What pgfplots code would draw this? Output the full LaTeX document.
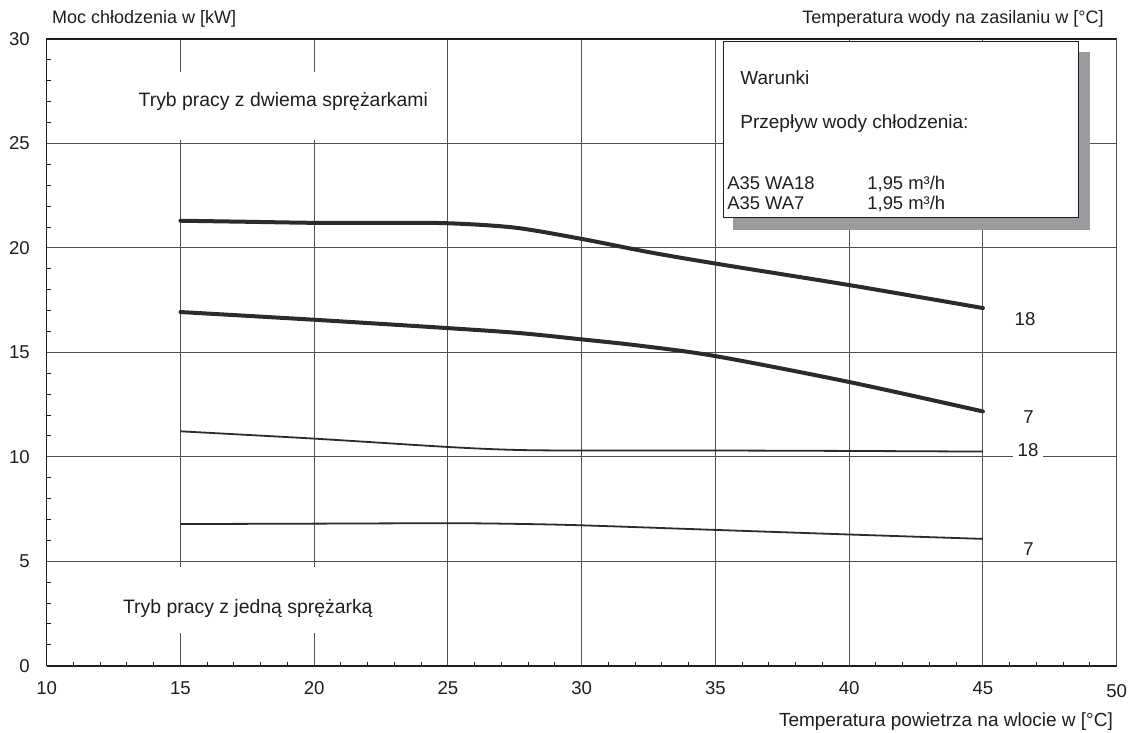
\documentclass[border=0pt]{standalone}
\usepackage{fontspec}
\setmainfont{Liberation Sans}
\usepackage{pgfplots}
\pgfplotsset{compat=1.18}
\definecolor{ink}{HTML}{1E1E1E}
\definecolor{curve}{HTML}{2B2B2B}
\definecolor{gridc}{HTML}{505050}
\definecolor{shadowc}{HTML}{9A9B9F}
\begin{document}
\begin{tikzpicture}
\useasboundingbox (-23.35pt,-33.65pt) rectangle (545.15pt,332.85pt);
\begin{axis}[
  at={(0pt,0pt)}, anchor=south west,
  scale only axis, width=535pt, height=313.35pt,
  xmin=10, xmax=50, ymin=0, ymax=30,
  xtick={10,15,...,45}, ytick={0,5,...,30},
  extra x ticks={50},
  extra x tick style={xticklabel style={yshift=-1.5pt}},
  minor xtick={11,12,13,14,16,17,18,19,21,22,23,24,26,27,28,29,31,32,33,34,36,37,38,39,41,42,43,44,46,47,48,49},
  minor y tick num=4,
  xtick pos=left, ytick pos=left,
  tick align=inside,
  major tick length=0pt, minor tick length=2pt,
  grid=major,
  major grid style={gridc, line width=0.5pt},
  minor grid style={draw=none},
  axis line style={ink, line width=0.6pt},
  minor tick style={ink, line width=0.5pt},
  tick label style={font=\fontsize{9.3pt}{11pt}\selectfont, text=ink},
  /pgf/number format/assume math mode=true,
  xticklabel style={yshift=-4.6pt},
  yticklabel style={xshift=-4.9pt},
  clip=false,
]
% two compressors, supply 18
\addplot[curve, line width=2pt, smooth, tension=0.5, line cap=round] coordinates {
 (15,21.30) (17.5,21.25) (20,21.20) (22.5,21.20) (25,21.18) (27.5,20.97)
 (30,20.43) (32.5,19.80) (35,19.25) (40,18.22) (45,17.12)};
% two compressors, supply 7
\addplot[curve, line width=2pt, smooth, tension=0.5, line cap=round] coordinates {
 (15,16.93) (20,16.56) (25,16.16) (27.7,15.92) (30,15.62) (32.1,15.33)
 (35,14.82) (40,13.58) (45,12.17)};
% one compressor, supply 18
\addplot[curve, line width=0.9pt, smooth, tension=0.5] coordinates {
 (15,11.22) (20,10.87) (25,10.47) (27.5,10.33) (30,10.30) (35,10.30) (40,10.28) (45,10.25)};
% one compressor, supply 7
\addplot[curve, line width=0.9pt, smooth, tension=0.5] coordinates {
 (15,6.78) (20,6.80) (25,6.82) (27.5,6.79) (30,6.72) (35,6.50) (40,6.28) (45,6.07)};
\draw[ink, line width=1pt] (rel axis cs:0,0) -- (rel axis cs:1,0);
\end{axis}
% white backgrounds behind mode labels
\fill[white] (41.65pt,262.85pt) rectangle (196.65pt,297pt);
\fill[white] (34.15pt,16.35pt) rectangle (169.15pt,49.35pt);
\begin{scope}[every node/.style={text=ink, inner sep=0pt}]
\node[anchor=base west, font=\fontsize{9.7pt}{11pt}\selectfont] at (45.8pt,279.5pt) {Tryb pracy z dwiema sprężarkami};
\node[anchor=base west, font=\fontsize{9.7pt}{11pt}\selectfont] at (38pt,26.2pt) {Tryb pracy z jedną sprężarką};
\node[anchor=base west, font=\fontsize{9pt}{11pt}\selectfont] at (2.5pt,321.2pt) {Moc chłodzenia w [kW]};
\node[anchor=base east, font=\fontsize{9pt}{11pt}\selectfont] at (528.65pt,320.85pt) {Temperatura wody na zasilaniu w [°C]};
\node[anchor=base east, font=\fontsize{9.5pt}{11pt}\selectfont] at (533.3pt,-30.5pt) {Temperatura powietrza na wlocie w [°C]};
% curve end labels
\node[font=\fontsize{9.3pt}{11pt}\selectfont] at (489.15pt,173.35pt) {18};
\node[font=\fontsize{9.3pt}{11pt}\selectfont] at (490.9pt,124.2pt) {7};
\node[font=\fontsize{9.3pt}{11pt}\selectfont, fill=white, inner xsep=2.4pt, inner ysep=1pt] at (490.65pt,107.85pt) {18};
\node[font=\fontsize{9.3pt}{11pt}\selectfont] at (490.9pt,58.2pt) {7};
% conditions box
\fill[shadowc] (343.3pt,217.85pt) rectangle (521.65pt,307pt);
\draw[ink, fill=white, line width=0.5pt] (338.15pt,223.85pt) rectangle (515.65pt,311.85pt);
\node[anchor=base west, font=\fontsize{9.5pt}{11pt}\selectfont] at (346.65pt,290.35pt) {Warunki};
\node[anchor=base west, font=\fontsize{9.5pt}{11pt}\selectfont] at (346.65pt,268.35pt) {Przepływ wody chłodzenia:};
\node[anchor=base west, font=\fontsize{9.2pt}{11pt}\selectfont] at (340.15pt,237.85pt) {A35 WA18};
\node[anchor=base west, font=\fontsize{9.2pt}{11pt}\selectfont] at (340.15pt,227.85pt) {A35 WA7};
\node[anchor=base west, font=\fontsize{9.2pt}{11pt}\selectfont] at (410.15pt,237.85pt) {1,95 m³/h};
\node[anchor=base west, font=\fontsize{9.2pt}{11pt}\selectfont] at (410.15pt,227.85pt) {1,95 m³/h};
\end{scope}
\end{tikzpicture}
\end{document}
